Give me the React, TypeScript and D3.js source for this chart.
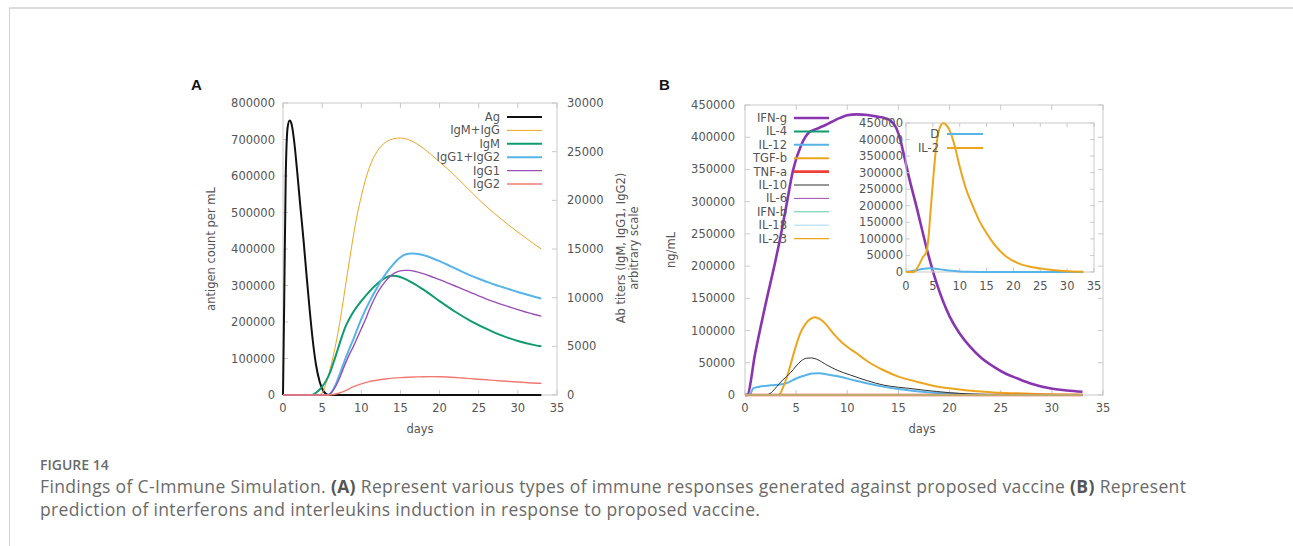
import { useEffect, useRef } from 'react'
import * as d3 from 'd3'

type Pt = [number, number]

// panel A, antigen (left axis)
const ag: Pt[] = [[0, 0], [0.15, 250000], [0.35, 600000], [0.6, 735000], [0.85, 752000], [1.1, 742000], [1.4, 700000], [1.8, 615000], [2.2, 520000], [2.6, 430000], [3.0, 330000], [3.4, 235000], [3.8, 150000], [4.2, 85000], [4.7, 35000], [5.2, 10000], [5.8, 0], [33, 0]]
// panel A, antibody titers (right axis)
const igmIgg: Pt[] = [[0, 0], [4.5, 0], [5, 200], [5.5, 1200], [6, 2600], [6.5, 4300], [7, 6300], [7.5, 8700], [8, 11300], [8.5, 13900], [9, 16400], [9.5, 18600], [10, 20400], [10.5, 22000], [11, 23300], [12, 25000], [13, 25900], [14, 26300], [15, 26400], [16, 26250], [17, 25850], [18, 25300], [19, 24650], [20, 23950], [21, 23250], [22, 22500], [23, 21700], [24, 20900], [25, 20100], [26, 19350], [27, 18650], [28, 18000], [29, 17350], [30, 16750], [31, 16150], [32, 15550], [33, 15000]]
const igm: Pt[] = [[0, 0], [3.6, 0], [4, 120], [4.5, 400], [5, 850], [5.5, 1450], [6, 2300], [6.5, 3450], [7, 4700], [7.5, 5950], [8, 7050], [8.5, 7850], [9, 8550], [10, 9650], [11, 10600], [12, 11400], [13, 12000], [13.8, 12250], [14.5, 12220], [15.5, 11950], [16.6, 11500], [18, 10800], [20, 9650], [22, 8550], [24, 7600], [26, 6800], [28, 6100], [30, 5550], [32, 5150], [33, 5000]]
const igg1Igg2: Pt[] = [[0, 0], [5.7, 0], [6.2, 300], [6.7, 1000], [7.3, 2260], [8, 3800], [8.5, 4800], [9, 5750], [9.5, 6800], [10, 7800], [10.5, 8700], [11, 9500], [11.5, 10300], [12, 11000], [12.5, 11700], [13, 12300], [13.5, 12850], [14, 13350], [14.5, 13800], [15, 14150], [15.5, 14400], [16, 14520], [16.5, 14550], [17, 14520], [18, 14350], [19, 14080], [20, 13750], [21, 13380], [22, 13000], [23, 12620], [24, 12260], [25, 11940], [26, 11640], [27, 11350], [28, 11090], [29, 10840], [30, 10590], [31, 10350], [32, 10120], [33, 9900]]
const igg1: Pt[] = [[0, 0], [5.7, 0], [6.2, 250], [6.7, 850], [7.3, 1880], [8, 3300], [8.5, 4200], [9, 5000], [9.5, 5900], [10, 6800], [10.5, 7700], [11, 8700], [11.5, 9600], [12, 10400], [12.5, 11050], [13, 11600], [13.5, 12050], [14, 12400], [14.5, 12620], [15, 12750], [15.5, 12800], [16, 12800], [17, 12680], [18, 12450], [19, 12150], [20, 11850], [21, 11530], [22, 11200], [23, 10860], [24, 10520], [25, 10180], [26, 9860], [27, 9560], [28, 9280], [29, 9020], [30, 8770], [31, 8530], [32, 8300], [33, 8100]]
const igg2: Pt[] = [[0, 0], [6, 0], [7, 150], [8, 450], [9, 850], [10, 1150], [11, 1380], [12, 1520], [13, 1640], [14, 1730], [15, 1790], [16, 1830], [17, 1860], [18, 1880], [19, 1890], [20, 1880], [21, 1850], [22, 1800], [23, 1740], [24, 1680], [25, 1620], [26, 1560], [27, 1500], [28, 1440], [29, 1380], [30, 1330], [31, 1280], [32, 1230], [33, 1200]]

// panel B, cytokines (ng/mL)
const ifng: Pt[] = [[0, 0], [0.2, 0], [1, 65000], [2, 140000], [3, 210000], [3.4, 240000], [4, 290000], [4.7, 349000], [5.5, 388000], [6.3, 408000], [7, 413000], [7.6, 417000], [8.5, 424000], [9.3, 430000], [10, 434000], [10.9, 435500], [12, 434500], [12.9, 432000], [13.7, 429500], [14.2, 426000], [14.8, 414000], [15.2, 395000], [15.5, 375000], [16, 340000], [16.8, 290000], [17.8, 225000], [18.7, 175000], [20, 122000], [21, 95000], [22, 75000], [23, 59000], [24.3, 44000], [25.5, 33000], [26.6, 25900], [28, 17500], [29.8, 10400], [31.5, 7000], [33, 5000]]
const il12: Pt[] = [[0, 0], [0.45, 0], [0.8, 10400], [1.4, 12900], [2.5, 15000], [3.75, 17000], [4.3, 20000], [4.7, 23300], [5.3, 27500], [6, 31000], [6.6, 33300], [7.3, 33600], [8, 32000], [9.3, 28400], [10.5, 23500], [11.9, 18100], [13.5, 13000], [15.2, 8800], [16.8, 6000], [18.5, 3500], [20.5, 1800], [22.5, 800], [25, 200], [27, 0], [33, 0]]
const tgfb: Pt[] = [[0, 0], [3.3, 0], [3.75, 12900], [4.1, 28000], [4.4, 44000], [4.9, 72000], [5.4, 95800], [5.9, 110000], [6.4, 118000], [6.85, 120600], [7.3, 118000], [8, 108000], [8.6, 96000], [9.5, 81000], [10.9, 64700], [12, 52000], [13.5, 38800], [15, 28500], [16.8, 20700], [18.5, 14000], [20, 10400], [21.5, 7500], [23.3, 5200], [25, 3500], [26.6, 2600], [28.5, 1500], [30.5, 800], [33, 300]]
const il10: Pt[] = [[0, 0], [2, 0], [2.6, 4000], [3.1, 12900], [3.7, 23500], [4.4, 33700], [5, 45000], [5.5, 53000], [6, 57000], [6.5, 57500], [7, 55500], [8, 46600], [9, 38500], [10.3, 31000], [12, 22000], [13.5, 15500], [15, 12000], [16, 10400], [17.5, 7500], [20, 3600], [22, 1500], [24, 500], [26, 0], [33, 0]]
const flatZero: Pt[] = [[0, 0], [33, 0]]

// panel B inset
const dCells: Pt[] = [[0, 0], [1, 2000], [2, 5500], [3, 9000], [4.5, 11000], [5.5, 10000], [7, 6500], [8.5, 3500], [10, 1800], [12, 800], [14, 300], [16, 0], [33, 0]]
const il2: Pt[] = [[0, 0], [1.4, 0], [2.2, 15000], [3.2, 46000], [3.8, 60000], [4.2, 107000], [4.6, 190000], [5.1, 288000], [5.5, 360000], [6, 419000], [6.5, 443000], [6.9, 449000], [7.5, 444000], [8.2, 425000], [9, 385000], [10, 318000], [11.2, 250000], [12.5, 197000], [13.8, 150000], [15, 117000], [16.5, 82000], [18.7, 46000], [20.8, 27000], [23.1, 16000], [26, 8500], [29.3, 3000], [33, 1000]]

const dayTicks = [0, 5, 10, 15, 20, 25, 30, 35]
const antigenTicks = [0, 100000, 200000, 300000, 400000, 500000, 600000, 700000, 800000]
const titerTicks = [0, 5000, 10000, 15000, 20000, 25000, 30000]
const cytokineTicks = [0, 50000, 100000, 150000, 200000, 250000, 300000, 350000, 400000, 450000]

const seriesA = [
  { name: 'Ag', data: ag, color: '#111111', width: 2, right: false },
  { name: 'IgM+IgG', data: igmIgg, color: '#eaa623', width: 1, right: true },
  { name: 'IgM', data: igm, color: '#0f9b70', width: 2, right: true },
  { name: 'IgG1+IgG2', data: igg1Igg2, color: '#56b4e9', width: 2, right: true },
  { name: 'IgG1', data: igg1, color: '#9a4fb5', width: 1.4, right: true },
  { name: 'IgG2', data: igg2, color: '#f07a72', width: 1.4, right: true }
]
const seriesB = [
  { name: 'IFN-g', data: ifng, color: '#8a35b0', width: 2.6 },
  { name: 'IL-4', data: flatZero, color: '#0f9b70', width: 2 },
  { name: 'IL-12', data: il12, color: '#56b4e9', width: 2 },
  { name: 'TGF-b', data: tgfb, color: '#eca51c', width: 2 },
  { name: 'TNF-a', data: flatZero, color: '#ee4036', width: 2.6 },
  { name: 'IL-10', data: il10, color: '#333333', width: 1 },
  { name: 'IL-6', data: flatZero, color: '#9a4fb5', width: 1 },
  { name: 'IFN-b', data: flatZero, color: '#5cc9a0', width: 1 },
  { name: 'IL-18', data: flatZero, color: '#a6d9f2', width: 1 },
  { name: 'IL-23', data: flatZero, color: '#eca51c', width: 1.2 }
]
const seriesInset = [
  { name: 'D', data: dCells, color: '#56b4e9', width: 2 },
  { name: 'IL-2', data: il2, color: '#eca51c', width: 2 }
]

const FONT = 'DejaVu Sans'
const FS = 11.5
const GRID = '#c9c9c9'
const TXT = '#555555'

const App = () => {
  const ref = useRef<SVGSVGElement>(null)

  useEffect(() => {
    const svg = d3.select(ref.current)
    svg.selectAll('*').remove()

    // page frame
    svg.append('line').attr('x1', 9).attr('x2', 1293).attr('y1', 8).attr('y2', 8)
      .attr('stroke', '#dcdcdc').attr('stroke-width', 2)
    svg.append('line').attr('x1', 9.5).attr('x2', 9.5).attr('y1', 8).attr('y2', 546)
      .attr('stroke', '#d2d2d2').attr('stroke-width', 1)

    const frame = (x: any, y: any, xt: number[], yt: number[], y2: any, y2t: number[] | null,
      o: { yLabGap: number, xLabDy: number, tick: number }) => {
      const g = svg.append('g')
      const [x0, x1] = x.range()
      const [yb, yt0] = y.range()
      g.append('rect').attr('x', x0).attr('y', yt0).attr('width', x1 - x0).attr('height', yb - yt0)
        .attr('fill', 'none').attr('stroke', GRID)
      xt.forEach((t) => {
        g.append('line').attr('x1', x(t)).attr('x2', x(t)).attr('y1', yb).attr('y2', yb - o.tick).attr('stroke', GRID)
        g.append('line').attr('x1', x(t)).attr('x2', x(t)).attr('y1', yt0).attr('y2', yt0 + o.tick).attr('stroke', GRID)
        g.append('text').attr('x', x(t)).attr('y', yb + o.xLabDy).attr('text-anchor', 'middle')
          .attr('font-family', FONT).attr('font-size', FS).attr('fill', TXT).text(t)
      })
      yt.forEach((t) => {
        g.append('line').attr('x1', x0).attr('x2', x0 + o.tick).attr('y1', y(t)).attr('y2', y(t)).attr('stroke', GRID)
        if (!y2) g.append('line').attr('x1', x1).attr('x2', x1 - o.tick).attr('y1', y(t)).attr('y2', y(t)).attr('stroke', GRID)
        g.append('text').attr('x', x0 - o.yLabGap).attr('y', y(t) + 4).attr('text-anchor', 'end')
          .attr('font-family', FONT).attr('font-size', FS).attr('fill', TXT).text(t)
      })
      if (y2 && y2t) {
        y2t.forEach((t) => {
          g.append('line').attr('x1', x1).attr('x2', x1 - o.tick).attr('y1', y2(t)).attr('y2', y2(t)).attr('stroke', GRID)
          g.append('text').attr('x', x1 + 10).attr('y', y2(t) + 4).attr('text-anchor', 'start')
            .attr('font-family', FONT).attr('font-size', FS).attr('fill', TXT).text(t)
        })
      }
    }

    const curve = (x: any, y: any, s: { data: Pt[], color: string, width: number }) => {
      const line = d3.line<Pt>().x((d) => x(d[0])).y((d) => y(d[1])).curve(d3.curveMonotoneX)
      svg.append('path').attr('d', line(s.data)).attr('fill', 'none')
        .attr('stroke', s.color).attr('stroke-width', s.width).attr('stroke-linejoin', 'round')
    }

    const legend = (items: { name: string, color: string, width: number }[], textEnd: number,
      l0: number, l1: number, top: number, step: number) => {
      items.forEach((s, i) => {
        const yy = top + i * step
        svg.append('text').attr('x', textEnd).attr('y', yy + 4).attr('text-anchor', 'end')
          .attr('font-family', FONT).attr('font-size', FS).attr('fill', TXT).text(s.name)
        svg.append('line').attr('x1', l0).attr('x2', l1).attr('y1', yy).attr('y2', yy)
          .attr('stroke', s.color).attr('stroke-width', s.width)
      })
    }

    const vText = (x: number, y: number, txt: string) => {
      svg.append('text').attr('transform', `translate(${x},${y}) rotate(-90)`).attr('text-anchor', 'middle')
        .attr('font-family', FONT).attr('font-size', FS).attr('fill', TXT).text(txt)
    }

    // ---------- panel A ----------
    const xA = d3.scaleLinear().domain([0, 35]).range([283, 557])
    const yA = d3.scaleLinear().domain([0, 800000]).range([395, 103])
    const yA2 = d3.scaleLinear().domain([0, 30000]).range([395, 103])
    frame(xA, yA, dayTicks, antigenTicks, yA2, titerTicks, { yLabGap: 8, xLabDy: 17, tick: 5 })
    seriesA.forEach((s) => curve(xA, s.right ? yA2 : yA, s))
    legend(seriesA, 500, 507, 542, 117, 13.4)
    vText(215, 249, 'antigen count per mL')
    vText(625, 248, 'Ab titers (IgM, IgG1, IgG2)')
    vText(638, 248, 'arbitrary scale')
    svg.append('text').attr('x', 420).attr('y', 433).attr('text-anchor', 'middle')
      .attr('font-family', FONT).attr('font-size', FS).attr('fill', TXT).text('days')

    // ---------- panel B ----------
    const xB = d3.scaleLinear().domain([0, 35]).range([745, 1103])
    const yB = d3.scaleLinear().domain([0, 450000]).range([395, 105])
    frame(xB, yB, dayTicks, cytokineTicks, null, null, { yLabGap: 10, xLabDy: 17, tick: 5 })
    seriesB.forEach((s) => curve(xB, yB, s))
    legend(seriesB, 787, 794, 829, 118, 13.4)
    vText(675, 250, 'ng/mL')
    svg.append('text').attr('x', 922).attr('y', 433).attr('text-anchor', 'middle')
      .attr('font-family', FONT).attr('font-size', FS).attr('fill', TXT).text('days')

    // inset
    const xI = d3.scaleLinear().domain([0, 35]).range([906, 1094])
    const yI = d3.scaleLinear().domain([0, 450000]).range([272, 123])
    frame(xI, yI, dayTicks, cytokineTicks, null, null, { yLabGap: 3, xLabDy: 18, tick: 4 })
    seriesInset.forEach((s) => curve(xI, yI, s))
    legend(seriesInset, 939, 947, 983, 134, 14)

    // panel letters
    svg.append('text').attr('x', 191).attr('y', 89.5).attr('font-family', 'Liberation Sans')
      .attr('font-weight', 'bold').attr('font-size', 15).attr('fill', '#111').text('A')
    svg.append('text').attr('x', 659).attr('y', 89.5).attr('font-family', 'Liberation Sans')
      .attr('font-weight', 'bold').attr('font-size', 15).attr('fill', '#111').text('B')

    // caption
    svg.append('text').attr('x', 40).attr('y', 470).attr('font-family', 'Open Sans')
      .attr('font-weight', 600).attr('font-size', 14).attr('fill', '#6a6a6a').text('FIGURE 14')
    const cap1 = svg.append('text').attr('x', 40).attr('y', 493).attr('font-family', 'Open Sans')
      .attr('font-size', 17.5).attr('letter-spacing', 0.35).attr('fill', '#6a6a6a')
    cap1.append('tspan').text('Findings of C-Immune Simulation. ')
    cap1.append('tspan').attr('font-weight', 'bold').attr('fill', '#555').text('(A)')
    cap1.append('tspan').text(' Represent various types of immune responses generated against proposed vaccine ')
    cap1.append('tspan').attr('font-weight', 'bold').attr('fill', '#555').text('(B)')
    cap1.append('tspan').text(' Represent')
    svg.append('text').attr('x', 40).attr('y', 516).attr('font-family', 'Open Sans')
      .attr('font-size', 17.5).attr('letter-spacing', 0.35).attr('fill', '#6a6a6a')
      .text('prediction of interferons and interleukins induction in response to proposed vaccine.')
  }, [])

  return (
    <svg
      ref={ref}
      width={1293}
      height={546}
      style={{ position: 'absolute', left: 0, top: 0, background: '#fff' }}
    />
  )
}

export default App
